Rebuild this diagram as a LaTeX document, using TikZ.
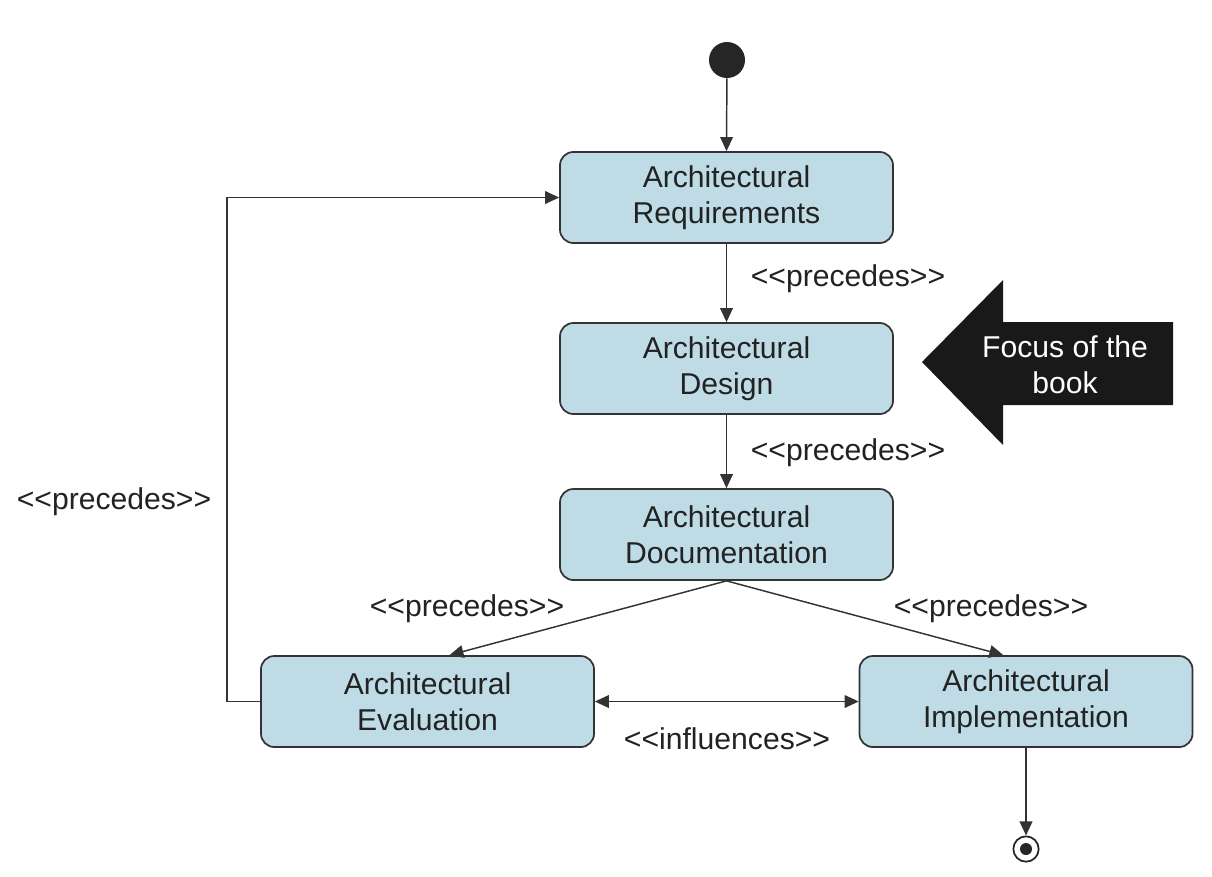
\documentclass[tikz,border=0pt]{standalone}
\usepackage{fontspec}
\setmainfont{Liberation Sans}
\usetikzlibrary{arrows.meta}
\definecolor{boxfill}{HTML}{BFDCE6}
\definecolor{boxline}{HTML}{333333}
\definecolor{txt}{HTML}{222222}
\begin{document}
\begin{tikzpicture}[x=0.75pt,y=-0.75pt,
  every node/.style={font=\fontsize{22.6}{27}\selectfont, text=txt},
  state/.style={draw=boxline, line width=1.3pt, fill=boxfill, rounded corners=10pt,
    minimum width=249.75pt, minimum height=68.25pt, align=center, inner sep=0pt},
  flow/.style={draw=boxline, line width=1.1pt, -{Triangle[length=10.5pt,width=9.5pt]}},
  lbl/.style={inner sep=0pt}]
\useasboundingbox (0,0) rectangle (1212,876);
% initial and final states
\node[circle, fill=black!85, minimum size=27pt, inner sep=0pt] (init) at (727,60) {};
\node[circle, draw=black!85, line width=1.3pt, fill=white, minimum size=19pt, inner sep=0pt] (final) at (1026,849) {};
\node[circle, fill=black!85, minimum size=9pt, inner sep=0pt] (finalin) at (final.center) {};
% states
\node[state] (req) at (726.5,197.5) {Architectural\\Requirements};
\node[state] (des) at (726.5,368.5) {Architectural\\Design};
\node[state] (doc) at (726.5,534.5) {Architectural\\Documentation};
\node[state] (eval) at (427.5,701.5) {Architectural\\Evaluation};
\node[state] (impl) at (1026,701.5) {Architectural\\Implementation};
% connectors
\draw[flow] (init) -- (req.north);
\draw[flow] (req.south) -- (des.north);
\draw[flow] (des.south) -- (doc.north);
\draw[flow] (doc.south) -- ([xshift=16.5pt]eval.north);
\draw[flow] (doc.south) -- ([xshift=-17pt]impl.north);
\draw[draw=boxline, line width=1.1pt, {Triangle[length=10.5pt,width=9.5pt]}-{Triangle[length=10.5pt,width=9.5pt]}] (eval.east) -- (impl.west);
\coordinate (fb) at (227,701.5);
\draw[flow] (eval.west) -- (fb) |- (req.west);
\draw[flow] (impl.south) -- (final.north);
% labels
\node[lbl] (l1) at (848,279) {<{}<precedes>{}>};
\node[lbl] (l2) at (848,453) {<{}<precedes>{}>};
\node[lbl] (l3) at (467,609) {<{}<precedes>{}>};
\node[lbl] (l4) at (991,609) {<{}<precedes>{}>};
\node[lbl] (l5) at (727,739) {<{}<influences>{}>};
\node[lbl] (l6) at (114,502) {<{}<precedes>{}>};
% focus arrow
\fill[black!90] (922,362) -- (1003,280) -- (1003,322) -- (1173,322) -- (1173,405) -- (1003,405) -- (1003,445) -- cycle;
\node[align=center, text=white, inner sep=0pt] (focus) at (1065,365) {Focus of the\\book};
\end{tikzpicture}
\end{document}
